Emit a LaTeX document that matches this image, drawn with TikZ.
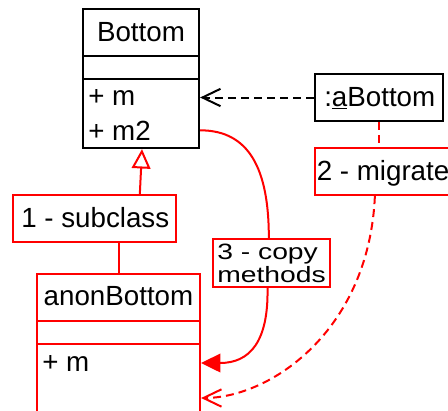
\documentclass[tikz,border=0pt]{standalone}
\usepackage{fontspec}
\setmainfont{Liberation Sans}
\usetikzlibrary{fit,arrows.meta}
\begin{document}
\begin{tikzpicture}[x=0.75pt,y=-0.75pt,
  box/.style={draw=black, line width=1.7pt, inner sep=0pt},
  redbox/.style={box, draw=red},
  lbl/.style={font=\fontsize{20.8}{25}\selectfont, inner sep=0pt, anchor=base west},
  conn/.style={line width=1.5pt},
  dashline/.style={conn, dash pattern=on 6pt off 3.75pt},
  openbarb/.style={-{Straight Barb[length=13.5pt, width=13pt, line width=1.5pt]}},
  hollowtri/.style={-{Triangle[open, length=14.5pt, width=14pt, fill=white, line width=1.5pt]}},
  solidtri/.style={-{Triangle[length=14.5pt, width=14pt]}}]
\useasboundingbox (0,0) rectangle (448,410);
\fill[white] (0,0) rectangle (448,410);

% class Bottom
\node[box, fit={(83,9) (199,56)}] (bTitle) {};
\node[box, fit={(83,56) (199,79)}] (bAttr) {};
\node[box, fit={(83,79) (199,148)}] (bOps) {};
\node[lbl, anchor=base] (bName) at (141,41) {Bottom};
\node[lbl] (bM) at (88,105) {+ m};
\node[lbl] (bM2) at (88,140) {+ m2};

% object :aBottom
\node[box, fit={(315,74) (443,121)}] (obj) {};
\node[lbl] (objName) at (324,106) {:\underline{a}Bottom};

% step labels
\node[redbox, fit={(315,148) (475,195)}] (mig) {};
\node[lbl] (migText) at (316.5,180) {2 - migrate};
\node[redbox, fit={(13,195) (176,242)}] (sub) {};
\node[lbl] (subText) at (21,227) {1 - subclass};
\node[redbox, fit={(213,239) (330,287)}] (copy) {};
\node[lbl] (copyA) at (217,259) {\scalebox{1.02}[0.8]{3 - copy}};
\node[lbl] (copyB) at (217,282) {\scalebox{1.02}[0.8]{methods}};

% class anonBottom
\node[redbox, fit={(37,274) (200,321)}] (aTitle) {};
\node[redbox, fit={(37,321) (200,344)}] (aAttr) {};
\node[redbox, fit={(37,344) (200,452)}] (aOps) {};
\node[lbl, anchor=base] (aName) at (118.5,305) {anonBottom};
\node[lbl] (aM) at (42,371) {+ m};

% dependency of the object on its class
\draw[dashline, openbarb] (obj.west) -- (obj.west -| bOps.east);

% 1 - subclass
\draw[conn, red, hollowtri] ([xshift=34pt]sub.north) -- ([xshift=0.75pt]bOps.south);
\draw[conn, red] ([xshift=18pt]sub.south) -- (aTitle.north);

% 2 - migrate
\draw[dashline, red] (obj.south) -- (obj.south |- mig.north);
\draw[dashline, red, openbarb] ([xshift=45.75pt]mig.south west)
  .. controls +(-4.5pt,-101.25pt) and +(51.75pt,0pt) .. (aOps.east);

% 3 - copy methods
\draw[conn, red] (bOps.east |- bM2)
  .. controls +(36.75pt,0pt) and +(0pt,51.75pt) .. ([xshift=-2pt]copy.north);
\draw[conn, red, solidtri] ([xshift=-3pt]copy.south)
  .. controls +(0.75pt,-39.75pt) and +(36.75pt,0pt) .. (aOps.east |- aM);
\end{tikzpicture}
\end{document}
